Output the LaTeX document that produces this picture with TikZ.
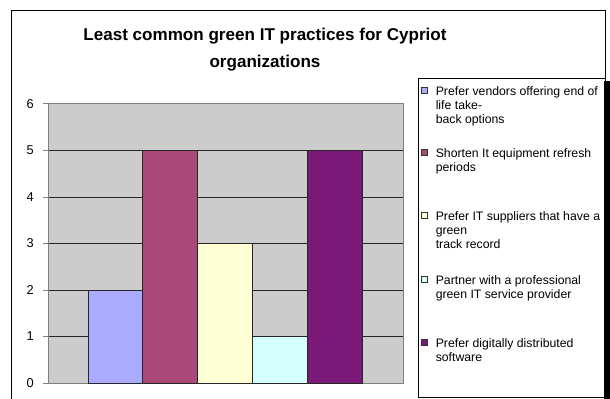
\documentclass[tikz,border=0pt]{standalone}
\usepackage{fontspec}
\setmainfont{Liberation Sans}
\definecolor{plotgray}{RGB}{204,204,204}
\definecolor{axisgray}{RGB}{128,128,128}
\definecolor{barA}{RGB}{170,170,255}
\definecolor{barB}{RGB}{170,73,119}
\definecolor{barC}{RGB}{255,255,213}
\definecolor{barD}{RGB}{213,255,255}
\definecolor{barE}{RGB}{123,25,120}
\tikzset{
  bar/.style={draw=black!85, line width=0.75pt},
  gridline/.style={draw=black!85, line width=0.75pt},
  ticklab/.style={anchor=east, inner sep=0pt, font=\fontsize{9.6}{11}\selectfont},
  legtext/.style={anchor=north west, inner sep=0pt, align=left, font=\fontsize{9.2}{10.6}\selectfont},
  legmark/.style={draw=black!80, line width=0.5pt, minimum size=4.5pt, inner sep=0pt},
}

\begin{document}
\begin{tikzpicture}[x=0.75pt,y=-0.75pt]
	\useasboundingbox (0,0) rectangle (610,399);
	% chart frame, open at the bottom
	\draw[line width=0.75pt] (11,399) -- (11,11) -- (605,11) -- (605,399);
	\node[font=\fontsize{12.8}{20.3}\selectfont\bfseries, align=center] (title) at (265,50)
		{Least common green IT practices for Cypriot\\organizations};
	% plot area and grid
	\fill[plotgray] (48,104) rectangle (403,383);
	\foreach \v in {1,...,5}
		\draw[gridline] (48,{383-46.5*\v}) -- (403,{383-46.5*\v});
	\draw[axisgray, line width=0.75pt] (48,383) -- (48,104) -- (403,104) -- (403,383) -- cycle;
	\foreach \v in {0,...,6} {
		\draw[axisgray, line width=0.75pt] (43,{383-46.5*\v}) -- (48,{383-46.5*\v});
		\node[ticklab] (ytick\v) at (34,{383-46.5*\v}) {\v};
	}
	% bars
	\foreach \i/\v/\c in {0/2/barA, 1/5/barB, 2/3/barC, 3/1/barD, 4/5/barE}
		\filldraw[bar, fill=\c] ({88+54.8*\i},383) rectangle ++(54.8,{-46.5*\v});
	% legend
	\fill[white] (418,79) rectangle (605,397);
	\fill[black] (604,81) rectangle (610,399);
	\draw[line width=0.75pt] (418,79) rectangle (605,397);
	\foreach \n/\y/\c/\t in {1/95/barA/{Prefer vendors offering end of\\life take-\\back options},
			2/157/barB/{Shorten It equipment refresh\\periods},
			3/220/barC/{Prefer IT suppliers that have a\\green\\track record},
			4/284/barD/{Partner with a professional\\green IT service provider},
			5/347/barE/{Prefer digitally distributed\\software}} {
		\node[legmark, fill=\c] (mark\n) at (424,{\y-5}) {};
		\node[legtext] (leg\n) at (435.5,{\y-9.1}) {\t};
	}
\end{tikzpicture}
\end{document}
